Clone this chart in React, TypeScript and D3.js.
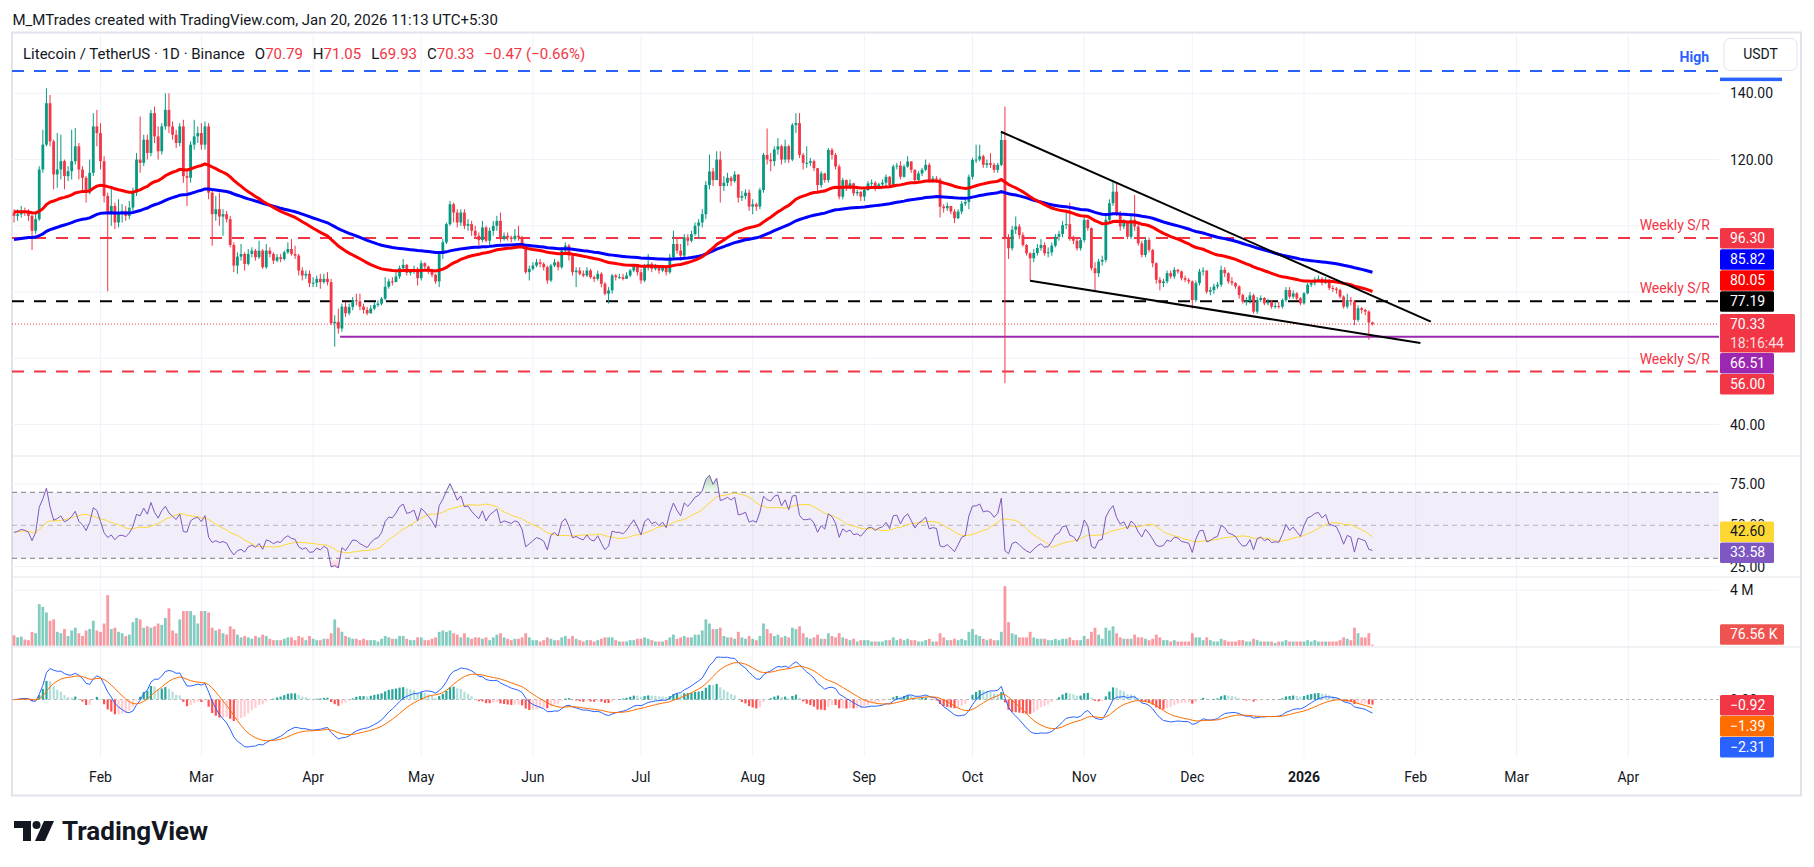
import * as d3 from "d3";

// ---------- data ----------
const firstDay = Date.UTC(2025, 0, 8);
const DAY = 86400000;
const firstOpen = 104;

// daily closes, Jan 8 2025 .. Jan 20 2026
const closes = [
  103, 103.5, 104.5, 104, 103, 98.5, 102, 117, 124.5, 137,
  125.5, 115.5, 117, 119.5, 115, 116.5, 119.5, 124, 117, 114.5,
  110, 116, 130, 128, 119.5, 109, 104, 106, 101, 104,
  104.5, 103, 105.5, 110, 120, 119, 126, 122, 134, 127,
  122.5, 130, 135, 130, 127.5, 125, 130, 115, 114.5, 124.5,
  127, 128, 124.5, 130, 110, 103.5, 105, 102.8, 103.5, 102,
  94.2, 88, 90.7, 91.5, 88.5, 91.5, 92.5, 90.5, 92.5, 87.5,
  92.5, 91.5, 89.5, 90.5, 90, 92, 93, 91.5, 91, 86.5,
  85, 85.5, 82.7, 82.8, 84, 83, 84, 83, 70.6, 71,
  69, 75.6, 73.6, 75.5, 77.5, 77.2, 75.6, 74.6, 73.6, 75,
  76.1, 76.5, 78, 81.6, 83.2, 83, 84.7, 87.2, 88.2, 85.8,
  86.2, 87, 84.2, 88.7, 87.7, 86.5, 85.2, 83.2, 91.7, 95,
  100.5, 106.5, 104, 101, 104, 100, 100.5, 98.5, 97, 95.7,
  99.5, 95.5, 98.5, 100, 101.5, 96, 97, 96.5, 96, 97,
  96.5, 94, 86, 87, 88, 89, 88.5, 87.5, 83.5, 88,
  89, 87.5, 92.5, 94, 91, 86, 86.5, 85.5, 85, 86.5,
  84.5, 84, 85.5, 82.5, 79.5, 80.5, 85, 84.5, 84.5, 84,
  85, 86.5, 88, 86, 83.5, 87.5, 88.5, 87, 87.5, 86.5,
  87.5, 86, 90.5, 94.5, 92.5, 91, 96.5, 95.5, 97.5, 100,
  101, 103.5, 112.3, 116.4, 113.8, 120, 112, 113, 114.5, 113.5,
  115.5, 108.5, 109, 110, 105.8, 106.5, 105.8, 110.8, 121.4, 120,
  119.5, 123, 124, 120, 124, 120, 130.4, 131, 121.4, 119,
  119, 119.5, 117.4, 112.3, 115.8, 113.8, 122.9, 121.4, 117.9, 108.8,
  113.8, 111.8, 112.8, 109.8, 110.2, 108.8, 110.8, 112.8, 113, 111.5,
  112.5, 113, 114.8, 112.3, 117.9, 118.2, 114.8, 117.9, 119.4, 116.9,
  113.8, 115.8, 116.9, 118.4, 113.8, 114.3, 114, 105.8, 105.3, 106,
  104.3, 102.3, 104.3, 106.7, 107.2, 114.8, 119.9, 120, 121, 118.4,
  118.9, 118.4, 116.9, 118.4, 125.9, 96.2, 93.2, 98.8, 99.8, 97.2,
  94.2, 91.7, 90.2, 91.8, 93.3, 94.2, 91.7, 92, 94, 96.7,
  97.5, 100.2, 100.5, 96.2, 95.5, 93.2, 95.7, 101.8, 99.3, 87.2,
  85.7, 89.2, 89.7, 101.8, 106.8, 110.3, 103.8, 99.8, 101.3, 96.7,
  101.8, 99.8, 94.7, 91.2, 95.7, 92.7, 88.7, 83.7, 82.7, 83.2,
  85.7, 84.7, 86.7, 86.2, 84.2, 83.7, 83.2, 77.6, 82.7, 86.2,
  86.5, 80.1, 80.6, 81.7, 82.2, 86.7, 85.7, 83.2, 82.7, 81.7,
  79.1, 77.1, 77.3, 79, 74.1, 77.6, 78.2, 76.6, 77.1, 75.6,
  75.8, 75.6, 77.6, 80.6, 78.6, 79.6, 78.1, 76.6, 79.6, 82.2,
  82.7, 83.7, 84, 82.7, 83.7, 81.2, 81, 80.6, 78.6, 75.6,
  77.6, 77.1, 71.6, 75.1, 74.6, 74.1, 70.79, 70.33,
];

const highs = [
  105, 105, 106, 105.5, 105, 103.5, 104, 118, 129, 141.5,
  139.5, 126, 128, 127.5, 120, 118, 129, 129.5, 125, 118,
  115, 120, 134, 135, 131, 121, 110, 112, 107, 108,
  106.5, 106, 107.5, 111.5, 122, 133, 127.5, 127.5, 135, 136,
  130, 131, 140, 140, 131.5, 129, 131, 132, 117, 125.5,
  132, 130, 131, 131.5, 131, 111, 109, 110, 105, 104.5,
  103, 95, 92, 94.5, 92, 93, 93.5, 93, 95.5, 93,
  94.5, 93.5, 92, 91.5, 91.5, 92.5, 95, 96, 94, 91.5,
  87.5, 86.5, 86.5, 84.5, 85, 85.5, 85.5, 86, 84, 73,
  75, 76.5, 77, 76.5, 78.5, 79.5, 79.5, 76.5, 75.5, 76,
  77, 77.5, 78.5, 84.5, 84, 84.5, 86, 88, 90, 88.5,
  87, 88, 87.5, 89.5, 89, 88, 87, 85.5, 92, 96,
  101, 107.5, 107, 105, 105, 105, 102, 101.5, 100, 98,
  101.5, 100, 99.5, 101.5, 103, 104, 98, 98, 97, 99,
  100, 97, 94.5, 88, 89, 90, 90, 89, 88, 88.5,
  90, 89.5, 93.5, 95, 94.5, 91.5, 87.5, 87.5, 86.5, 87.5,
  87, 85, 86.5, 86, 83, 81.5, 85.5, 85.5, 85.5, 85.5,
  86, 87, 88.5, 88.5, 87, 88.5, 91.5, 89, 88.5, 88,
  88, 88, 91.5, 98.5, 96, 94.5, 97.5, 97.5, 98.5, 101,
  102, 105, 113.5, 121.5, 117.5, 122.5, 122.5, 115, 116, 115,
  116.5, 115.5, 110.5, 111, 111, 108, 107, 111.5, 122, 129.4,
  122, 124, 126.5, 124.5, 126, 124.5, 131, 134, 134, 122,
  124, 120.5, 120, 117.5, 116.5, 116, 123.5, 123.5, 122, 118.5,
  114.5, 114, 114, 113, 111, 110.5, 111.5, 113.5, 114, 113.5,
  113, 114, 115.5, 115, 118.5, 119, 119.5, 118.5, 121, 119.5,
  117, 116.5, 117.5, 120, 119, 115, 115, 114.5, 106.5, 107,
  106, 105, 105, 107.5, 108, 115.5, 120.5, 124.5, 124.5, 121.5,
  120, 122, 119, 119, 128.4, 136, 97.5, 100, 102.8, 100.5,
  98, 94.5, 92, 93, 94.5, 96, 95, 93.5, 95, 97.5,
  98.5, 101.5, 104, 107, 97, 96, 96.5, 103, 102, 99.5,
  89, 90, 91, 103, 108, 113.8, 112.8, 104.5, 102, 100,
  103, 109.3, 100.5, 95.5, 96.5, 96.5, 93, 89, 84.5, 84,
  86.5, 86.5, 87.5, 87, 86.5, 85, 84.2, 83.5, 83.5, 87,
  87.5, 86.5, 81.5, 82.5, 83, 88, 87.5, 86, 84.5, 83,
  82, 79.5, 78.5, 80, 79.5, 78.5, 79, 78.5, 78, 77.5,
  76.8, 77, 78, 81.5, 81.5, 80.5, 80, 78.5, 80, 82.8,
  83.5, 84.5, 85, 84.5, 84.5, 84, 82, 81.5, 81, 79,
  79.5, 78.5, 77.5, 76, 75.5, 75, 74.5, 71.05,
];

const lows = [
  101, 101.5, 102.5, 103, 101.5, 92.7, 97.5, 101.5, 116, 124,
  124, 111, 111.5, 114, 111, 113.5, 114, 118.5, 114, 110,
  107, 109.5, 115, 124, 117, 107, 80.2, 100, 99, 99.5,
  101, 101.5, 102, 104.5, 109, 116, 118, 120, 121, 125,
  120, 121.5, 129, 128, 126, 123.5, 124, 113, 106, 113,
  123, 125, 123, 123, 108, 94, 101.5, 100, 97, 101,
  93.5, 86, 85.5, 89.5, 86.5, 88, 90.5, 89.5, 90, 87,
  87, 90.5, 88.5, 89, 89, 89.5, 91.5, 91, 90, 85,
  83.5, 84, 81.5, 81.5, 81.5, 81, 82.5, 82, 70, 63.5,
  67.5, 68, 72.5, 73, 74.5, 76, 74.5, 73.5, 73, 73.5,
  74.5, 75.5, 76, 77.5, 81, 82, 83, 84, 86.5, 85,
  85, 85.5, 82, 83.5, 87, 85.5, 84.5, 82.5, 81.5, 90,
  94.5, 100, 101, 99.5, 100, 99, 98.5, 97, 96, 94,
  95, 95, 94, 97, 98.5, 95, 95.5, 95.5, 95, 95.5,
  95.5, 93.5, 85.5, 83.5, 86.5, 87.5, 87.5, 86.5, 82.5, 83,
  87.5, 86.5, 87, 92, 89.5, 85, 81.5, 85, 84.5, 84.5,
  84, 83, 83.5, 81.5, 79, 76.5, 79.5, 83.5, 84, 83.5,
  84, 84.5, 86, 85, 82.5, 83, 86.5, 86, 86.5, 85.5,
  86, 85, 85.5, 90, 91.5, 89.5, 90.5, 94, 95, 97,
  96, 99.5, 102, 111, 112, 114, 107, 110.5, 112, 112,
  113, 107, 107.5, 108, 104.5, 103.5, 104.5, 105, 110, 118.5,
  116.5, 118, 121.5, 118.5, 119, 119, 119.5, 128, 120.5, 117,
  117.5, 118, 116.5, 110.5, 111.5, 113, 113, 120, 117, 108,
  108, 110.5, 111, 109, 109, 107.5, 107.5, 110.5, 112, 110.5,
  111, 112, 111.5, 111.5, 112, 117, 114, 114.5, 117.5, 116,
  113, 113, 115, 116.5, 113, 113, 113, 102.5, 104, 104.5,
  103.5, 100.8, 102, 103.5, 106, 105, 114, 119, 119.5, 117.5,
  117.5, 117.5, 116, 116, 118, 52.5, 90, 92.5, 97.5, 96,
  93.7, 91, 83.4, 89, 91, 92.5, 91, 90.5, 91, 93.5,
  95.5, 96.5, 99, 95.5, 94.5, 92.5, 92.5, 95, 98.5, 86.5,
  80.1, 84.5, 88, 89, 101, 106, 103, 98.5, 99, 96,
  96, 98.5, 94, 90.5, 90.5, 92, 87.5, 82.5, 80.5, 81.5,
  82.5, 84, 84, 85.5, 83.5, 83, 82.5, 75, 77, 82,
  85, 79.5, 79, 79.5, 81, 81.5, 84.5, 82.5, 82, 81,
  78, 76.5, 76, 76.5, 73.5, 73.5, 77, 76, 76, 75,
  75, 75, 75, 77, 78, 78, 77.5, 76, 76.2, 79.3,
  81.5, 82, 83, 82, 82.5, 80.5, 80, 79.5, 78, 75,
  75, 76, 70, 71, 73.5, 73, 65.6, 69.93,
];

// volume in millions
const volumes = [
  0.75, 0.6, 0.65, 0.45, 0.4, 1.0, 0.9, 3.0, 2.8, 2.4,
  1.8, 1.9, 1.0, 0.9, 1.2, 0.7, 1.1, 1.3, 0.9, 0.7,
  1.1, 1.2, 1.8, 1.1, 1.0, 1.6, 3.65, 1.2, 1.3, 1.0,
  0.9, 0.7, 0.8, 1.7, 2.0, 1.9, 1.3, 1.4, 1.3, 1.4,
  1.6, 1.5, 2.0, 2.7, 1.1, 0.9, 1.9, 2.5, 2.5, 2.5,
  2.2, 1.6, 2.5, 2.5, 2.4, 1.3, 1.1, 1.2, 0.9, 0.8,
  1.4, 1.2, 0.8, 0.6, 0.7, 0.6, 0.5, 0.7, 0.6, 0.8,
  0.7, 0.5, 0.4, 0.4, 0.4, 0.5, 0.6, 0.6, 0.4, 0.7,
  0.6, 0.4, 0.7, 0.5, 0.4, 0.4, 0.5, 0.5, 0.9, 1.9,
  1.3, 1.0, 0.7, 0.6, 0.5, 0.5, 0.4, 0.5, 0.4, 0.4,
  0.4, 0.3, 0.5, 0.7, 0.6, 0.5, 0.5, 0.7, 0.7, 0.5,
  0.4, 0.4, 0.6, 0.6, 0.4, 0.4, 0.5, 0.6, 1.0, 1.1,
  1.0, 1.1, 0.9, 0.8, 0.6, 0.9, 0.6, 0.5, 0.6, 0.6,
  0.5, 0.6, 0.4, 0.6, 0.8, 0.9, 0.6, 0.5, 0.4, 0.5,
  0.5, 0.6, 0.9, 0.6, 0.4, 0.4, 0.3, 0.4, 0.6, 0.5,
  0.4, 0.4, 0.6, 0.7, 0.5, 0.7, 0.5, 0.4, 0.3, 0.4,
  0.4, 0.3, 0.4, 0.5, 0.6, 0.6, 0.6, 0.4, 0.3, 0.3,
  0.3, 0.4, 0.4, 0.5, 0.5, 0.6, 0.5, 0.4, 0.3, 0.3,
  0.3, 0.4, 0.6, 0.8, 0.5, 0.6, 0.7, 0.6, 0.6, 0.8,
  0.8, 1.1, 1.9, 1.6, 1.2, 1.2, 1.3, 0.7, 0.6, 0.6,
  0.5, 1.0, 0.6, 0.5, 0.7, 0.5, 0.4, 0.7, 1.6, 1.2,
  0.9, 0.7, 0.8, 0.6, 0.7, 0.6, 1.3, 1.2, 1.4, 0.9,
  0.6, 0.5, 0.6, 0.8, 0.5, 0.5, 0.9, 0.7, 0.6, 0.9,
  0.6, 0.5, 0.4, 0.5, 0.3, 0.4, 0.4, 0.4, 0.3, 0.3,
  0.3, 0.3, 0.4, 0.4, 0.6, 0.4, 0.5, 0.4, 0.5, 0.4,
  0.4, 0.3, 0.3, 0.4, 0.5, 0.3, 0.3, 0.9, 0.6, 0.4,
  0.4, 0.5, 0.4, 0.5, 0.4, 1.0, 1.2, 0.8, 0.7, 0.5,
  0.4, 0.5, 0.4, 0.4, 1.0, 4.3, 1.7, 0.9, 0.8, 0.6,
  0.6, 0.6, 1.0, 0.6, 0.5, 0.5, 0.5, 0.4, 0.4, 0.5,
  0.4, 0.5, 0.5, 0.6, 0.4, 0.4, 0.4, 0.7, 0.5, 1.0,
  1.3, 0.8, 0.5, 1.3, 1.1, 1.4, 0.9, 0.6, 0.5, 0.5,
  0.5, 0.8, 0.6, 0.6, 0.5, 0.4, 0.5, 0.8, 0.6, 0.4,
  0.4, 0.3, 0.4, 0.3, 0.3, 0.3, 0.3, 0.9, 0.6, 0.6,
  0.4, 0.6, 0.4, 0.3, 0.3, 0.5, 0.4, 0.3, 0.3, 0.3,
  0.4, 0.4, 0.3, 0.3, 0.5, 0.4, 0.3, 0.3, 0.3, 0.3,
  0.2, 0.3, 0.3, 0.4, 0.3, 0.3, 0.3, 0.3, 0.3, 0.4,
  0.3, 0.4, 0.3, 0.3, 0.3, 0.3, 0.3, 0.3, 0.4, 0.6,
  0.5, 0.4, 1.3, 0.9, 0.6, 0.6, 0.9, 0.07656,
];

// indicator levels seen at the left edge (warm-up)
const ema50Seed = 104.3;
const ema100Seed = 95.7;
const rsiSeedGain = 1.6;
const rsiSeedLoss = 1.9;

const priceTicks = [40, 60, 80, 100, 120, 140];
const highLevel = 146.7;
const srLevels = [96.3, 77.19, 56.0];
const srColors = ["#f23645", "#000000", "#f23645"];
const supportLevel = 66.51;
const supportFrom = 90.5;
const lastPrice = 70.33;
const upperTrend = [[273.9, 128.4], [393.2, 71.05]];
const lowerTrend = [[282, 83.4], [390.3, 64.6]];

const priceLabels = [
  { v: 96.3, text: "96.30", bg: "#f23645", fg: "#fff" },
  { v: 85.82, text: "85.82", bg: "#0000ff", fg: "#fff" },
  { v: 80.05, text: "80.05", bg: "#ff0000", fg: "#fff" },
  { v: 77.19, text: "77.19", bg: "#000000", fg: "#fff" },
  { v: 70.33, text: "70.33", sub: "18:16:44", bg: "#f23645", fg: "#fff", anchor: true },
  { v: 66.51, text: "66.51", bg: "#9c27b0", fg: "#fff" },
  { v: 56.0, text: "56.00", bg: "#f23645", fg: "#fff" },
];
const rsiLabels = [
  { v: 42.6, text: "42.60", bg: "#fdd835", fg: "#131722" },
  { v: 33.58, text: "33.58", bg: "#7e57c2", fg: "#fff", anchor: true },
];
const macdLabels = [
  { v: -0.92, text: "−0.92", bg: "#f23645", fg: "#fff", anchor: true },
  { v: -1.39, text: "−1.39", bg: "#ff6d00", fg: "#fff" },
  { v: -2.31, text: "−2.31", bg: "#2962ff", fg: "#fff" },
];

// ---------- layout ----------
const W = 1814;
const H = 867;
const L = 12;
const PR = 1719;
const AR = 1801;
const TOP = 34;
const MAIN_B = 456;
const RSI_B = 577;
const VOL_B = 647;
const MACD_B = 757;
const FONT = "Roboto, 'Noto Sans', sans-serif";
const GREEN = "#089981";
const RED = "#f23645";
const GRID = "#f0f3fa";
const SEP = "#e0e3eb";
const TXT = "#131722";

const dayDate = (i: number) => new Date(firstDay + i * DAY);

function stackLabels(items: any[], y: (v: number) => number) {
  const boxes = items.map((d) => ({ ...d, top: y(d.v) - 10, h: d.sub ? 38.5 : 20.5 }));
  const a = Math.max(0, boxes.findIndex((d) => d.anchor));
  for (let j = a - 1; j >= 0; j--) {
    const lim = boxes[j + 1].top - 0.5;
    if (boxes[j].top + boxes[j].h > lim) boxes[j].top = lim - boxes[j].h;
  }
  for (let j = a + 1; j < boxes.length; j++) {
    const lim = boxes[j - 1].top + boxes[j - 1].h + 0.5;
    if (boxes[j].top < lim) boxes[j].top = lim;
  }
  return boxes;
}

function ema(vals: number[], n: number, seed: number) {
  const k = 2 / (n + 1);
  let e = seed;
  return vals.map((v) => (e = e + k * (v - e)));
}

export default function App() {
  const opens = closes.map((c, i) => (i === 0 ? firstOpen : closes[i - 1]));

  const x = d3
    .scaleUtc()
    .domain([new Date(Date.UTC(2025, 1, 1)), new Date(Date.UTC(2026, 3, 1))])
    .range([100.5, 1628.3]);
  const xi = (i: number) => x(dayDate(i));
  const y = d3.scaleLinear().domain([60, 140]).range([358.3, 93.3]);
  const yR = d3.scaleLinear().domain([30, 70]).range([558.3, 492.3]);
  const yV = d3.scaleLinear().domain([0, 4]).range([645.7, 590.3]);

  // moving averages (EMA 50 red, EMA 100 blue)
  const ema50 = ema(closes, 50, ema50Seed);
  const ema100 = ema(closes, 100, ema100Seed);

  // RSI 14 + its SMA 14
  let ag = rsiSeedGain;
  let al = rsiSeedLoss;
  const rsi = closes.map((c, i) => {
    if (i > 0) {
      const d = c - closes[i - 1];
      ag = (ag * 13 + Math.max(d, 0)) / 14;
      al = (al * 13 + Math.max(-d, 0)) / 14;
    }
    return 100 - 100 / (1 + ag / al);
  });
  const rsiMa = rsi.map((_, i) => d3.mean(rsi.slice(Math.max(0, i - 13), i + 1)) as number);

  // MACD 12 26 9
  const e12 = ema(closes, 12, closes[0]);
  const e26 = ema(closes, 26, closes[0]);
  const macd = e12.map((v, i) => v - e26[i]);
  const signal = ema(macd, 9, 0);
  const hist = macd.map((v, i) => v - signal[i]);
  const mExt = d3.extent([...macd, ...signal, ...hist]) as [number, number];
  const yM = d3.scaleLinear().domain(mExt).range([747, 657]);

  const months = d3.utcMonths(new Date(Date.UTC(2025, 1, 1)), new Date(Date.UTC(2026, 3, 2)));

  const lineP = (arr: number[], ys: (v: number) => number) =>
    d3
      .line<number>()
      .x((_, i) => xi(i))
      .y((v) => ys(v))(arr) as string;

  const rsiArea = d3
    .area<number>()
    .x((_, i) => xi(i))
    .y0(yR(70))
    .y1((v) => yR(v))(rsi) as string;
  const rsiAreaLow = d3
    .area<number>()
    .x((_, i) => xi(i))
    .y0(yR(30))
    .y1((v) => yR(v))(rsi) as string;

  const pBoxes = stackLabels(priceLabels, y);
  const rBoxes = stackLabels(rsiLabels, yR);
  const mBoxes = stackLabels(macdLabels, yM);
  const covered = (yy: number) => pBoxes.some((b) => yy > b.top - 4 && yy < b.top + b.h + 4);

  const histColor = (i: number) => {
    const h = hist[i];
    const p = i > 0 ? hist[i - 1] : 0;
    if (h >= 0) return h >= p ? "#26a69a" : "#b2dfdb";
    return h < p ? "#ff5252" : "#ffcdd2";
  };

  const trend = (t: number[][]) => (
    <line
      x1={xi(t[0][0])}
      y1={y(t[0][1])}
      x2={xi(t[1][0])}
      y2={y(t[1][1])}
      stroke="#000"
      strokeWidth={2}
    />
  );

  const box = (b: any, key: string) => (
    <g key={key}>
      <rect x={1720} y={b.top} width={b.sub ? 75 : 54} height={b.h} fill={b.bg} rx={1.5} />
      <text x={1730} y={b.top + 15} fill={b.fg} fontSize={14}>
        {b.text}
      </text>
      {b.sub && (
        <text x={1730} y={b.top + 34} fill={b.fg} fontSize={14} fillOpacity={0.85}>
          {b.sub}
        </text>
      )}
    </g>
  );

  return (
    <svg width={W} height={H} style={{ position: "absolute", left: 0, top: 0, fontFamily: FONT }}>
      <rect width={W} height={H} fill="#fff" />
      <text x={12.5} y={25} fontSize={15} fill={TXT}>
        M_MTrades created with TradingView.com, Jan 20, 2026 11:13 UTC+5:30
      </text>

      {/* frame */}
      <rect x={L} y={32.5} width={AR - L} height={763} fill="none" stroke={SEP} strokeWidth={2} />

      {/* vertical grid */}
      {months.map((m) => (
        <line key={+m} x1={x(m)} x2={x(m)} y1={TOP} y2={MACD_B} stroke={GRID} strokeWidth={1} />
      ))}
      {/* horizontal grid */}
      {priceTicks.map((t) => (
        <line key={t} x1={L} x2={PR} y1={y(t)} y2={y(t)} stroke={GRID} />
      ))}
      {[75, 25].map((t) => (
        <line key={t} x1={L} x2={PR} y1={yR(t)} y2={yR(t)} stroke={GRID} />
      ))}
      <line x1={L} x2={PR} y1={yV(4)} y2={yV(4)} stroke={GRID} />

      {/* pane separators */}
      {[MAIN_B, RSI_B, VOL_B].map((s) => (
        <line key={s} x1={L} x2={AR} y1={s} y2={s} stroke={SEP} />
      ))}

      {/* legend */}
      <text x={23} y={59} fontSize={15} fill={TXT}>
        <tspan>Litecoin / TetherUS · 1D · Binance</tspan>
        <tspan dx={10}>O</tspan>
        <tspan fill={RED}>70.79</tspan>
        <tspan dx={10}>H</tspan>
        <tspan fill={RED}>71.05</tspan>
        <tspan dx={10}>L</tspan>
        <tspan fill={RED}>69.93</tspan>
        <tspan dx={10}>C</tspan>
        <tspan fill={RED}>70.33</tspan>
        <tspan dx={10} fill={RED}>
          −0.47 (−0.66%)
        </tspan>
      </text>

      {/* level lines */}
      <line x1={L} x2={PR} y1={y(highLevel)} y2={y(highLevel)} stroke="#2962ff" strokeWidth={2} strokeDasharray="12 10" />
      {srLevels.map((lv, i) => (
        <g key={lv}>
          <line x1={L} x2={PR} y1={y(lv)} y2={y(lv)} stroke={srColors[i]} strokeWidth={2} strokeDasharray="12 10" />
          <text x={1710} y={y(lv) - 8} textAnchor="end" fontSize={14} fill={RED}>
            Weekly S/R
          </text>
        </g>
      ))}
      <line x1={xi(supportFrom)} x2={PR} y1={y(supportLevel)} y2={y(supportLevel)} stroke="#9c27b0" strokeWidth={2} />
      <line x1={L} x2={PR} y1={y(lastPrice)} y2={y(lastPrice)} stroke={RED} strokeWidth={1} strokeDasharray="1 2" />

      {/* candles */}
      {closes.map((c, i) => {
        const o = opens[i];
        const up = c >= o;
        const col = up ? GREEN : RED;
        const cx = xi(i);
        const hi = Math.max(highs[i], o, c);
        const lo = Math.min(lows[i], o, c);
        const top = y(Math.max(o, c));
        return (
          <g key={i}>
            <line x1={cx} x2={cx} y1={y(hi)} y2={y(lo)} stroke={col} strokeWidth={1} />
            <rect x={cx - 1.4} y={top} width={2.8} height={Math.max(1, y(Math.min(o, c)) - top)} fill={col} />
          </g>
        );
      })}

      {/* moving averages */}
      <path d={lineP(ema100, y)} fill="none" stroke="#0000ff" strokeWidth={3} />
      <path d={lineP(ema50, y)} fill="none" stroke="#ff0000" strokeWidth={3} />

      {/* trendlines */}
      {trend(upperTrend)}
      {trend(lowerTrend)}

      {/* RSI pane */}
      <defs>
        <clipPath id="ob">
          <rect x={L} y={MAIN_B} width={PR - L} height={yR(70) - MAIN_B} />
        </clipPath>
        <clipPath id="os">
          <rect x={L} y={yR(30)} width={PR - L} height={RSI_B - yR(30)} />
        </clipPath>
        <clipPath id="above50">
          <rect x={1720} y={MAIN_B} width={80} height={rBoxes[0].top - MAIN_B} />
        </clipPath>
        <clipPath id="aboveZero">
          <rect x={1720} y={VOL_B} width={80} height={mBoxes[0].top - VOL_B} />
        </clipPath>
        <linearGradient id="gOb" gradientUnits="userSpaceOnUse" x1="0" y1={yR(90)} x2="0" y2={yR(70)}>
          <stop offset="0" stopColor="#4caf50" stopOpacity={0.9} />
          <stop offset="1" stopColor="#4caf50" stopOpacity={0.05} />
        </linearGradient>
        <linearGradient id="gOs" gradientUnits="userSpaceOnUse" x1="0" y1={yR(30)} x2="0" y2={yR(10)}>
          <stop offset="0" stopColor="#f23645" stopOpacity={0.05} />
          <stop offset="1" stopColor="#f23645" stopOpacity={0.9} />
        </linearGradient>
      </defs>
      <rect x={L} y={yR(70)} width={PR - L} height={yR(30) - yR(70)} fill="#7e57c2" fillOpacity={0.1} />
      <path d={rsiArea} fill="url(#gOb)" clipPath="url(#ob)" />
      <path d={rsiAreaLow} fill="url(#gOs)" clipPath="url(#os)" />
      {[70, 30].map((t) => (
        <line key={t} x1={L} x2={PR} y1={yR(t)} y2={yR(t)} stroke="#787b86" strokeDasharray="5 4" />
      ))}
      <line x1={L} x2={PR} y1={yR(50)} y2={yR(50)} stroke="#787b86" strokeOpacity={0.5} strokeDasharray="5 4" />
      <path d={lineP(rsiMa, yR)} fill="none" stroke="#fdd835" strokeWidth={1} />
      <path d={lineP(rsi, yR)} fill="none" stroke="#7e57c2" strokeWidth={1} />

      {/* volume pane */}
      {volumes.map((v, i) => {
        const up = closes[i] >= opens[i];
        return (
          <rect
            key={i}
            x={xi(i) - 1.4}
            y={yV(v)}
            width={2.8}
            height={yV(0) - yV(v)}
            fill={up ? GREEN : RED}
            fillOpacity={0.5}
          />
        );
      })}

      {/* MACD pane */}
      <line x1={L} x2={PR} y1={yM(0)} y2={yM(0)} stroke="#787b86" strokeOpacity={0.6} strokeDasharray="3 3" />
      {hist.map((h, i) => (
        <rect
          key={i}
          x={xi(i) - 1.1}
          y={Math.min(yM(h), yM(0))}
          width={2.2}
          height={Math.abs(yM(h) - yM(0))}
          fill={histColor(i)}
        />
      ))}
      <path d={lineP(macd, yM)} fill="none" stroke="#2962ff" strokeWidth={1} />
      <path d={lineP(signal, yM)} fill="none" stroke="#ff6d00" strokeWidth={1} />

      {/* price axis */}
      {priceTicks
        .filter((t) => !covered(y(t)))
        .map((t) => (
          <text key={t} x={1730} y={y(t) + 5} fontSize={14} fill={TXT}>
            {t.toFixed(2)}
          </text>
        ))}
      <text x={1730} y={yR(75) + 5} fontSize={14} fill={TXT}>75.00</text>
      <text x={1730} y={yR(50) + 5} fontSize={14} fill={TXT} clipPath="url(#above50)">50.00</text>
      <text x={1730} y={yR(25) + 5} fontSize={14} fill={TXT}>25.00</text>
      <text x={1730} y={yV(4) + 5} fontSize={14} fill={TXT}>4 M</text>
      <text x={1730} y={yM(0) + 5} fontSize={14} fill={TXT} clipPath="url(#aboveZero)">0.00</text>
      {pBoxes.map((b, i) => box(b, "p" + i))}
      {rBoxes.map((b, i) => box(b, "r" + i))}
      {mBoxes.map((b, i) => box(b, "m" + i))}
      <rect x={1720} y={yV(0.0766) - 20.5} width={64} height={20.5} fill="#ef5350" rx={1.5} />
      <text x={1730} y={yV(0.0766) - 5.5} fontSize={14} fill="#fff">76.56 K</text>

      {/* high label + currency */}
      <rect x={1720} y={y(highLevel) + 6.5} width={62} height={3.5} fill="#2962ff" />
      <text x={1709} y={62} textAnchor="end" fontSize={14} fontWeight={700} fill="#2962ff">
        High
      </text>
      <rect x={1724} y={38.5} width={73} height={32} rx={6} fill="#fff" stroke={SEP} />
      <text x={1760.5} y={59} textAnchor="middle" fontSize={14} fill={TXT}>
        USDT
      </text>

      {/* time axis */}
      {months.map((m) => (
        <text
          key={+m}
          x={x(m)}
          y={782}
          textAnchor="middle"
          fontSize={14}
          fill={TXT}
          fontWeight={m.getUTCMonth() === 0 ? 700 : 400}
        >
          {m.getUTCMonth() === 0 ? d3.utcFormat("%Y")(m) : d3.utcFormat("%b")(m)}
        </text>
      ))}

      {/* logo */}
      <g fill={TXT}>
        <path d="M14 821 H31 V841 H23 V828 H14 Z" />
        <circle cx={36.5} cy={825} r={4} />
        <path d="M44 821 H54 L45 841 H35 Z" />
        <text x={62} y={840} fontSize={26} fontWeight={700}>
          TradingView
        </text>
      </g>
    </svg>
  );
}
